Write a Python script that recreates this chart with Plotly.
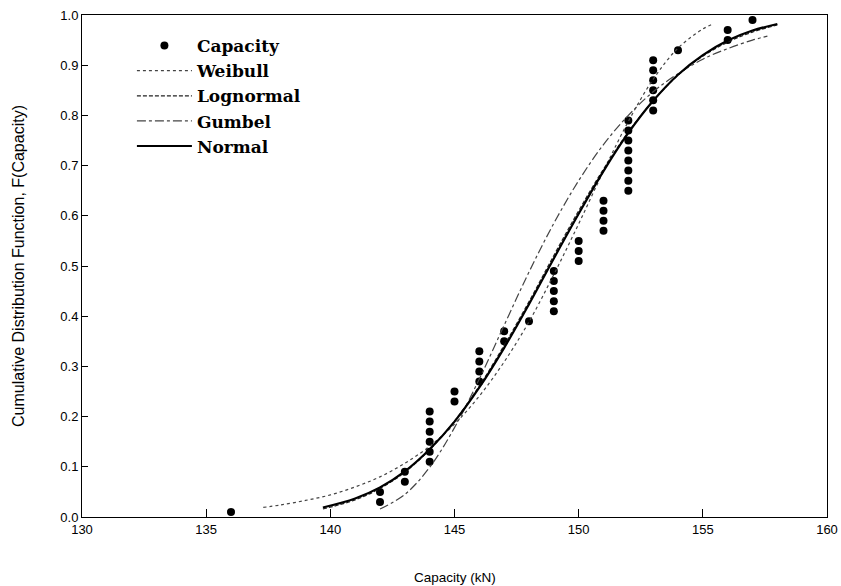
import plotly.graph_objects as go

# Observed capacities (kN) and plotting positions
cap_x = [136, 142, 142, 143, 143, 144, 144, 144, 144, 144, 144, 145, 145,
         146, 146, 146, 146, 147, 147, 148, 149, 149, 149, 149, 149,
         150, 150, 150, 151, 151, 151, 151, 152, 152, 152, 152, 152, 152, 152, 152,
         153, 153, 153, 153, 153, 153, 154, 156, 156, 157]
cap_y = [0.01, 0.03, 0.05, 0.07, 0.09, 0.11, 0.13, 0.15, 0.17, 0.19, 0.21, 0.23, 0.25,
         0.27, 0.29, 0.31, 0.33, 0.35, 0.37, 0.39, 0.41, 0.43, 0.45, 0.47, 0.49,
         0.51, 0.53, 0.55, 0.57, 0.59, 0.61, 0.63, 0.65, 0.67, 0.69, 0.71, 0.73, 0.75, 0.77, 0.79,
         0.81, 0.83, 0.85, 0.87, 0.89, 0.91, 0.93, 0.95, 0.97, 0.99]

# Fitted CDF curves
weib_x = [137.3, 138, 139, 140, 141, 142, 143, 144, 145, 146, 147, 148, 149, 150,
          151, 152, 153, 154, 155, 155.4]
weib_y = [0.019, 0.024, 0.033, 0.044, 0.060, 0.080, 0.107, 0.141, 0.185, 0.241, 0.309,
          0.389, 0.483, 0.584, 0.689, 0.788, 0.872, 0.934, 0.972, 0.982]

logn_x = [139.7, 141, 142, 143, 144, 145, 146, 147, 148, 149, 150, 151, 152, 153,
          154, 155, 156, 157, 158]
logn_y = [0.016, 0.034, 0.057, 0.089, 0.134, 0.191, 0.261, 0.342, 0.429, 0.521, 0.610,
          0.693, 0.767, 0.829, 0.880, 0.918, 0.946, 0.966, 0.980]

gumb_x = [142, 143, 144, 145, 146, 147, 148, 149, 150, 151, 152, 153, 154, 155,
          156, 157, 157.6]
gumb_y = [0.016, 0.045, 0.099, 0.178, 0.275, 0.382, 0.488, 0.585, 0.670, 0.742, 0.800,
          0.847, 0.883, 0.912, 0.933, 0.950, 0.958]

norm_x = [139.7, 141, 142, 143, 144, 145, 146, 147, 148, 149, 150, 151, 152, 153,
          154, 155, 156, 157, 158]
norm_y = [0.019, 0.037, 0.059, 0.091, 0.135, 0.190, 0.258, 0.337, 0.424, 0.515, 0.604,
          0.689, 0.765, 0.829, 0.881, 0.920, 0.949, 0.969, 0.982]

x_title = "Capacity (kN)"
y_title = "Cumulative Distribution Function, F(Capacity)"

fig = go.Figure()
fig.add_trace(go.Scatter(x=cap_x, y=cap_y, mode="markers", name="Capacity",
                         marker=dict(color="black", size=8, symbol="circle")))
fig.add_trace(go.Scatter(x=weib_x, y=weib_y, mode="lines", name="Weibull", line_shape="spline",
                         line=dict(color="#444444", width=1.2, dash="dot")))
fig.add_trace(go.Scatter(x=logn_x, y=logn_y, mode="lines", name="Lognormal", line_shape="spline",
                         line=dict(color="#222222", width=1.2, dash="4px,2px")))
fig.add_trace(go.Scatter(x=gumb_x, y=gumb_y, mode="lines", name="Gumbel", line_shape="spline",
                         line=dict(color="#444444", width=1.2, dash="dashdot")))
fig.add_trace(go.Scatter(x=norm_x, y=norm_y, mode="lines", name="Normal", line_shape="spline",
                         line=dict(color="black", width=2.2)))

axis_common = dict(showline=True, linecolor="black", linewidth=1, mirror=True,
                   showgrid=False, zeroline=False, ticks="inside", tickcolor="black",
                   automargin=False,
                   tickfont=dict(family="Liberation Sans, Arial", size=13, color="black"))

fig.update_xaxes(range=[130, 160], dtick=5, tick0=130, ticklen=8, **axis_common)
fig.update_yaxes(range=[0, 1], dtick=0.1, tick0=0, tickformat=".1f", ticklen=6, **axis_common)

fig.add_annotation(text=x_title, xref="paper", yref="paper", x=0.5, y=-0.12,
                   xanchor="center", yanchor="middle", showarrow=False,
                   font=dict(family="Liberation Sans, Arial", size=13.5, color="black"))
fig.add_annotation(text=y_title, xref="paper", yref="paper", x=-0.086, y=0.5,
                   xanchor="center", yanchor="middle", showarrow=False, textangle=-90,
                   font=dict(family="Liberation Sans, Arial", size=16, color="black"))

fig.update_layout(
    width=841, height=586,
    margin=dict(l=82, r=14, t=15, b=69),
    paper_bgcolor="white", plot_bgcolor="white",
    showlegend=True,
    legend=dict(x=0.067, y=0.974, xanchor="left", yanchor="top",
                bgcolor="rgba(0,0,0,0)", borderwidth=0,
                font=dict(family="DejaVu Serif", size=17, color="black", weight="bold"),
                itemwidth=55, tracegroupgap=0),
)

fig.write_html("out.html")
